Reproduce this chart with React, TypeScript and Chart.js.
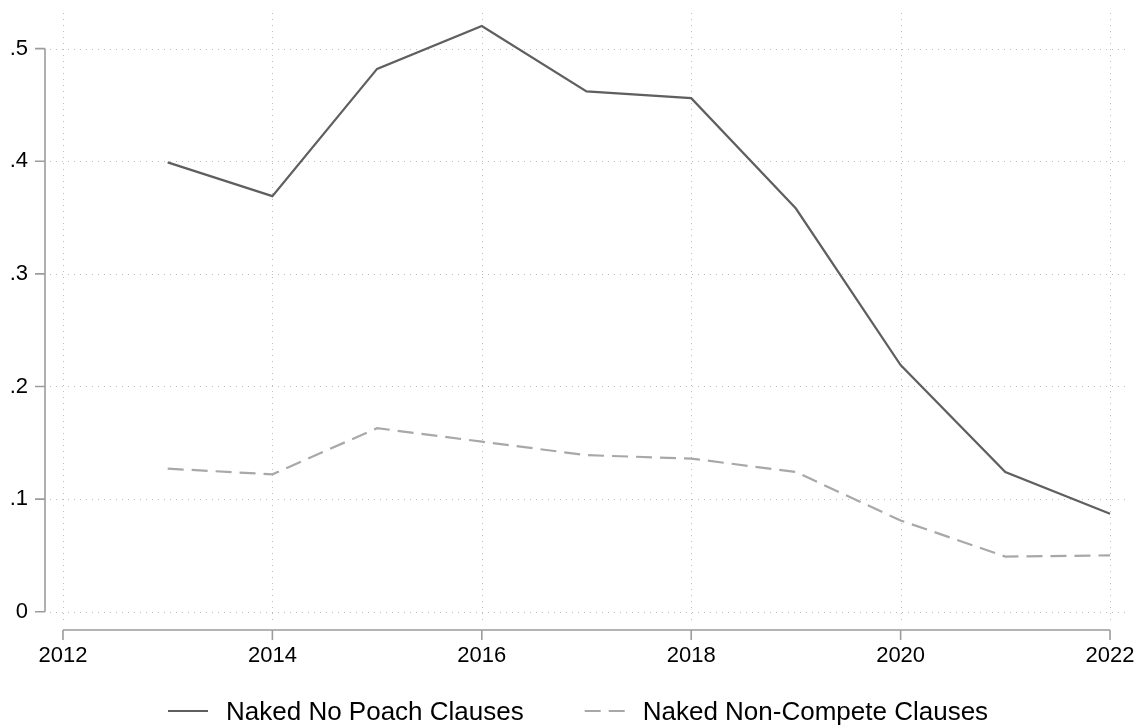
import React, { useEffect, useRef } from "react";
import { Chart, registerables } from "chart.js";

Chart.register(...registerables);

const years = [2013, 2014, 2015, 2016, 2017, 2018, 2019, 2020, 2021, 2022];
const noPoach = [0.399, 0.369, 0.482, 0.52, 0.462, 0.456, 0.358, 0.219, 0.124, 0.087];
const nonCompete = [0.127, 0.122, 0.163, 0.151, 0.139, 0.136, 0.124, 0.081, 0.049, 0.05];
const seriesLabels = ["Naked No Poach Clauses", "Naked Non-Compete Clauses"];
const xTicks = [2012, 2014, 2016, 2018, 2020, 2022];
const yTicks = [0, 0.1, 0.2, 0.3, 0.4, 0.5];
const yTickLabels = ["0", ".1", ".2", ".3", ".4", ".5"];

const FONT = "'Liberation Sans', Arial, Helvetica, sans-serif";
const W = 1139;
const H = 726;
const LEGEND_FONT = 26;

const stataPlugin = {
  id: "stataAxes",
  beforeDatasetsDraw(chart: any) {
    const { ctx, chartArea: ca, scales } = chart;
    const x = scales.x;
    const y = scales.y;
    ctx.save();
    // dotted grid
    ctx.strokeStyle = "#bdbdbd";
    ctx.lineWidth = 1;
    ctx.setLineDash([1, 5]);
    xTicks.forEach((v) => {
      const px = Math.round(x.getPixelForValue(v)) + 0.5;
      ctx.beginPath();
      ctx.moveTo(px, ca.top);
      ctx.lineTo(px, ca.bottom);
      ctx.stroke();
    });
    yTicks.forEach((v) => {
      const py = Math.round(y.getPixelForValue(v)) + 0.5;
      ctx.beginPath();
      ctx.moveTo(ca.left, py);
      ctx.lineTo(ca.right, py);
      ctx.stroke();
    });
    ctx.setLineDash([]);
    // axes
    ctx.strokeStyle = "#9c9c9c";
    ctx.lineWidth = 1.6;
    const ax = ca.left - 5;
    ctx.beginPath();
    ctx.moveTo(ax, y.getPixelForValue(yTicks[0]));
    ctx.lineTo(ax, y.getPixelForValue(yTicks[yTicks.length - 1]));
    yTicks.forEach((v) => {
      const py = y.getPixelForValue(v);
      ctx.moveTo(ax - 10, py);
      ctx.lineTo(ax, py);
    });
    ctx.stroke();
    const ay = ca.bottom + 5;
    ctx.beginPath();
    ctx.moveTo(x.getPixelForValue(xTicks[0]), ay);
    ctx.lineTo(x.getPixelForValue(xTicks[xTicks.length - 1]), ay);
    xTicks.forEach((v) => {
      const px = x.getPixelForValue(v);
      ctx.moveTo(px, ay);
      ctx.lineTo(px, ay + 10);
    });
    ctx.stroke();
    ctx.restore();
  },
  afterDraw(chart: any) {
    const { ctx } = chart;
    const ds = chart.data.datasets;
    ctx.save();
    ctx.font = `${LEGEND_FONT}px ${FONT}`;
    ctx.textBaseline = "alphabetic";
    ctx.textAlign = "left";
    const lineW = 40;
    const gapText = 18;
    const gapItem = 61;
    const widths = ds.map((d: any) => lineW + gapText + ctx.measureText(d.label).width);
    let cx = 168;
    const lineY = 711;
    const baseY = 719.5;
    ds.forEach((d: any, i: number) => {
      ctx.strokeStyle = d.borderColor;
      ctx.lineWidth = d.borderWidth;
      ctx.setLineDash(d.borderDash || []);
      ctx.beginPath();
      ctx.moveTo(cx, lineY);
      ctx.lineTo(cx + lineW, lineY);
      ctx.stroke();
      ctx.setLineDash([]);
      ctx.fillStyle = "#000";
      ctx.fillText(d.label, cx + lineW + gapText, baseY);
      cx += widths[i] + gapItem;
    });
    ctx.restore();
  },
};

export default function App() {
  const ref = useRef<HTMLCanvasElement | null>(null);
  useEffect(() => {
    document.body.style.margin = "0";
    const canvas = ref.current;
    if (!canvas) return;
    const chart = new Chart(canvas, {
      type: "line",
      data: {
        datasets: [
          {
            label: seriesLabels[0],
            data: years.map((yr, i) => ({ x: yr, y: noPoach[i] })),
            borderColor: "#5f5f5f",
            borderWidth: 2.2,
            pointRadius: 0,
            tension: 0,
            fill: false,
          },
          {
            label: seriesLabels[1],
            data: years.map((yr, i) => ({ x: yr, y: nonCompete[i] })),
            borderColor: "#a8a8a8",
            borderWidth: 2.2,
            borderDash: [16, 8],
            pointRadius: 0,
            tension: 0,
            fill: false,
          },
        ],
      },
      options: {
        animation: false,
        responsive: false,
        devicePixelRatio: 1,
        layout: { padding: { top: 13, right: 14, bottom: 41, left: 0 } },
        plugins: {
          legend: { display: false },
          tooltip: { enabled: false },
        },
        scales: {
          x: {
            type: "linear",
            min: 2011.876,
            max: 2022.143,
            grid: { display: false, drawTicks: false },
            border: { display: false },
            afterBuildTicks: (s: any) => {
              s.ticks = xTicks.map((v) => ({ value: v }));
            },
            afterFit: (s: any) => {
              s.height = 60;
              s.paddingLeft = 0;
              s.paddingRight = 0;
            },
            ticks: {
              padding: 18,
              color: "#000",
              font: { family: FONT, size: 22 },
              maxRotation: 0,
              autoSkip: false,
              callback: (v: any) => String(v),
            },
          },
          y: {
            type: "linear",
            min: -0.0118,
            max: 0.5316,
            grid: { display: false, drawTicks: false },
            border: { display: false },
            afterBuildTicks: (s: any) => {
              s.ticks = yTicks.map((v) => ({ value: v }));
            },
            afterFit: (s: any) => {
              s.width = 50;
              s.paddingTop = 0;
              s.paddingBottom = 0;
            },
            ticks: {
              padding: 22,
              color: "#000",
              font: { family: FONT, size: 22 },
              autoSkip: false,
              callback: (_v: any, i: number) => yTickLabels[i],
            },
          },
        },
      },
      plugins: [stataPlugin],
    });
    return () => chart.destroy();
  }, []);
  return (
    <div style={{ width: W, height: H, overflow: "hidden", background: "#fff" }}>
      <canvas ref={ref} width={W} height={H} style={{ display: "block" }} />
    </div>
  );
}
